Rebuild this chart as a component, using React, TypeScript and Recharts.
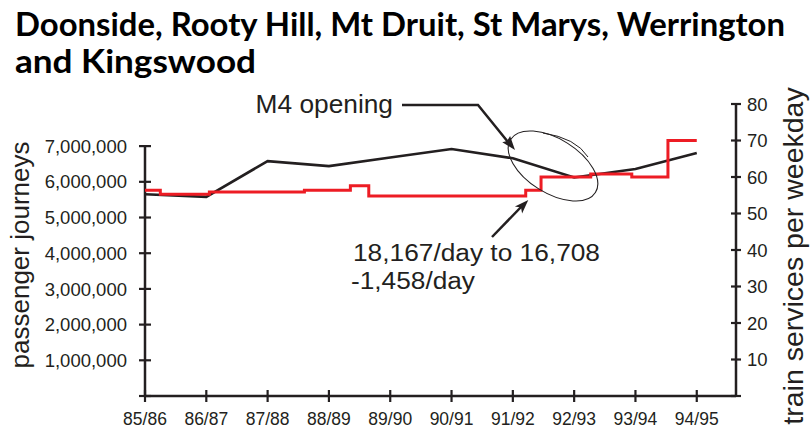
import React from 'react';
import { LineChart, Line, XAxis, YAxis, ReferenceLine } from 'recharts';

// ---- data ----
const categories = ['85/86', '86/87', '87/88', '88/89', '89/90', '90/91', '91/92', '92/93', '93/94', '94/95'];
const passengerJourneys = [5650000, 5580000, 6580000, 6440000, 6680000, 6920000, 6660000, 6120000, 6360000, 6810000];
// train services per weekday: step changes (position in financial-year units, value)
const serviceChangeAt = [0, 0.25, 1.05, 2.6, 3.35, 3.65, 6.21, 6.46, 7.27, 7.94, 8.53, 9];
const servicesPerWeekday = [56.4, 55.3, 55.9, 56.4, 57.6, 54.8, 56.4, 60, 60.8, 60, 70, 70];
const journeyTicks = [0, 1000000, 2000000, 3000000, 4000000, 5000000, 6000000, 7000000];
const serviceTicks = [0, 10, 20, 30, 40, 50, 60, 70, 80];
const xTicks = categories.map((_, i) => i);

const titleLines = ['Doonside, Rooty Hill, Mt Druit, St Marys, Werrington', 'and Kingswood'];
const leftTitle = 'passenger journeys';
const rightTitle = 'train services per weekday';
const m4Note = 'M4 opening';
const dropNote = ['18,167/day to 16,708', '-1,458/day'];

const journeyData = categories.map((c, i) => ({ x: i, label: c, journeys: passengerJourneys[i] }));
const serviceData = serviceChangeAt.map((x, i) => ({ x, services: servicesPerWeekday[i] }));

const INK = '#231f20';
const RED = '#ed1c24';
const FONT = '"Liberation Sans", Arial, Helvetica, sans-serif';

const XTick = (props: any) => {
  const { x, y, payload } = props;
  return (
    <g>
      <line x1={x} x2={x} y1={y - 6} y2={y + 6} stroke={INK} strokeWidth={2.2} />
      <text x={x} y={y + 29} textAnchor="middle" fontSize={17.5} fill={INK} fontFamily={FONT}>
        {categories[payload.value]}
      </text>
    </g>
  );
};

const LeftTick = (props: any) => {
  const { x, y, payload } = props;
  return (
    <g>
      <line x1={x - 6} x2={x + 6} y1={y} y2={y} stroke={INK} strokeWidth={2.2} />
      {payload.value !== 0 && (
        <text x={x - 18} y={y + 6.6} textAnchor="end" fontSize={18.5} fill={INK} fontFamily={FONT}>
          {Number(payload.value).toLocaleString('en-US')}
        </text>
      )}
    </g>
  );
};

const RightTick = (props: any) => {
  const { x, y, payload } = props;
  return (
    <g>
      <line x1={x - 5} x2={x + 5} y1={y} y2={y} stroke={INK} strokeWidth={2.2} />
      {payload.value !== 0 && (
        <text x={x + 11} y={y + 6.6} textAnchor="start" fontSize={18.5} fill={INK} fontFamily={FONT}>
          {payload.value}
        </text>
      )}
    </g>
  );
};

export default function App() {
  return (
    <div style={{ position: 'absolute', left: 0, top: 0, width: 811, height: 428, background: '#fff' }}>
      <LineChart width={811} height={428} margin={{ top: 104, right: 0, bottom: 0, left: 0 }}>
        <XAxis
          dataKey="x"
          type="number"
          domain={[0, 9.64]}
          ticks={xTicks}
          interval={0}
          height={32}
          tickLine={false}
          tickSize={0}
          tickMargin={0}
          axisLine={{ stroke: INK, strokeWidth: 2.5 }}
          tick={<XTick />}
        />
        <YAxis
          yAxisId="left"
          orientation="left"
          width={145}
          domain={[0, 8180000]}
          ticks={journeyTicks}
          interval={0}
          axisLine={false}
          tickLine={false}
          tickSize={0}
          tickMargin={0}
          tick={<LeftTick />}
        />
        <YAxis
          yAxisId="right"
          orientation="right"
          width={75}
          domain={[0, 80]}
          ticks={serviceTicks}
          interval={0}
          axisLine={{ stroke: INK, strokeWidth: 2.5 }}
          tickLine={false}
          tickSize={0}
          tickMargin={0}
          tick={<RightTick />}
        />
        <ReferenceLine
          yAxisId="left"
          segment={[{ x: 0, y: 0 }, { x: 0, y: 7000000 }]}
          stroke={INK}
          strokeWidth={2.5}
          ifOverflow="visible"
        />
        <Line
          yAxisId="left"
          data={journeyData}
          dataKey="journeys"
          type="linear"
          stroke={INK}
          strokeWidth={2.6}
          dot={false}
          isAnimationActive={false}
        />
        <Line
          yAxisId="right"
          data={serviceData}
          dataKey="services"
          type="stepAfter"
          stroke={RED}
          strokeWidth={3}
          dot={false}
          isAnimationActive={false}
        />
      </LineChart>
      <svg
        width={811}
        height={428}
        style={{ position: 'absolute', left: 0, top: 0, pointerEvents: 'none' }}
      >
        <text x={15} y={36} fontSize={33} fontWeight={700} fill="#000" fontFamily="Lato, sans-serif" textLength={770} lengthAdjust="spacingAndGlyphs">
          {titleLines[0]}
        </text>
        <text x={15} y={73} fontSize={33} fontWeight={700} fill="#000" fontFamily="Lato, sans-serif" textLength={241} lengthAdjust="spacingAndGlyphs">
          {titleLines[1]}
        </text>
        <text x={29} y={255} fontSize={26} fill={INK} fontFamily={FONT} textAnchor="middle" transform="rotate(-90 29 255)">
          {leftTitle}
        </text>
        <text x={803} y={256} fontSize={28.5} fill={INK} fontFamily={FONT} textAnchor="middle" transform="rotate(-90 803 256)">
          {rightTitle}
        </text>
        <text x={393} y={113} fontSize={26.3} fill={INK} fontFamily={FONT} textAnchor="end">
          {m4Note}
        </text>
        <polyline points="402,105 478,105 508,142" fill="none" stroke={INK} strokeWidth={2.5} />
        <polygon points="515,150 502.3,142.3 507,141 510.1,136" fill={INK} />
        <text x={353} y={261} fontSize={23} fill={INK} fontFamily={FONT} textLength={247} lengthAdjust="spacingAndGlyphs">
          {dropNote[0]}
        </text>
        <text x={351} y={288.5} fontSize={23} fill={INK} fontFamily={FONT} textLength={124} lengthAdjust="spacingAndGlyphs">
          {dropNote[1]}
        </text>
        <line x1={492} y1={237} x2={522} y2={206} stroke={INK} strokeWidth={2.5} />
        <polygon points="528.3,200 522.1,213.5 521,207.5 514.9,206.5" fill={INK} />
        <ellipse cx={553} cy={166} rx={50} ry={27} transform="rotate(32 553 166)" fill="none" stroke={INK} strokeWidth={1.1} />
        <path d="M 543 133 Q 576 138 588 157" fill="none" stroke={INK} strokeWidth={1} />
      </svg>
    </div>
  );
}
